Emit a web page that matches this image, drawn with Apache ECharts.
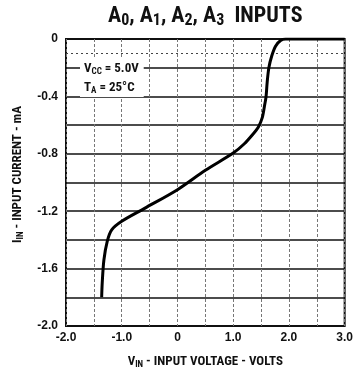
<!DOCTYPE html>
<html><head><meta charset="utf-8">
<script src="https://cdn.jsdelivr.net/npm/echarts@6/dist/echarts.min.js"></script>
<style>html,body{margin:0;padding:0;background:#fff}#c{width:356px;height:376px}</style>
</head><body><div id="c"></div>
<script>
// V_IN (volts) and I_IN (mA)
const vin = [-1.36, -1.35, -1.32, -1.26, -1.18, -1.0, -0.59, 0.0, 0.5, 1.0, 1.2, 1.35, 1.45, 1.52, 1.56, 1.59, 1.61, 1.64, 1.69, 1.76, 1.85, 1.94, 3.0];
const iin = [-1.80, -1.70, -1.54, -1.41, -1.33, -1.27, -1.18, -1.05, -0.915, -0.795, -0.73, -0.665, -0.615, -0.55, -0.47, -0.40, -0.30, -0.20, -0.12, -0.05, -0.01, 0.0, 0.0];
const xTickLabels = ['-2.0', '-1.0', '0', '1.0', '2.0', '3.0'];
const yTickLabels = ['0', '-0.4', '-0.8', '-1.2', '-1.6', '-2.0'];
const refLevel = -0.1;

const F = '"Liberation Sans", Arial, sans-serif';
const FC = '"Roboto Condensed", "Liberation Sans", sans-serif';
const chart = echarts.init(document.getElementById('c'), null, {renderer: 'canvas'});

function xLab(v) {
  const r = Math.round(v * 10) / 10;
  if (Math.abs(r - Math.round(r)) > 1e-6) return '';
  const s = r === 0 ? '0' : r.toFixed(1);
  return xTickLabels.includes(s) ? s : '';
}
function yLab(v) {
  const r = Math.round(v * 10) / 10;
  const s = r === 0 ? '0' : r.toFixed(1);
  return yTickLabels.includes(s) ? s : '';
}
const subRich = (fs, lh, pad) => ({
  n: {fontFamily: FC, fontWeight: 'bold', fontSize: fs, color: '#111', lineHeight: lh},
  s: {fontFamily: FC, fontWeight: 'bold', fontSize: Math.round(fs * 0.72), color: '#111', lineHeight: lh, padding: [pad, 0, 0, 0]}
});

chart.setOption({
  animation: false,
  backgroundColor: '#fff',
  title: [{
    text: '{n|A}{s|0}{n|, A}{s|1}{n|, A}{s|2}{n|, A}{s|3}{n|  INPUTS}',
    left: 108, top: 3, padding: 0,
    textStyle: {rich: subRich(22, 26, 10)}
  }, {
    text: '{n|V}{s|CC}{n| = 5.0V}\n{n|T}{s|A}{n| = 25°C}',
    left: 80, top: 57, padding: [2, 5, 2, 4],
    backgroundColor: '#fff',
    textStyle: {rich: subRich(13, 19, 6)}
  }],
  grid: {left: 66, right: 6, top: 39, bottom: 50, show: true, borderColor: '#111', borderWidth: 2, backgroundColor: 'transparent'},
  xAxis: {
    type: 'value', min: -2, max: 3, interval: 0.5,
    axisLine: {show: false}, axisTick: {show: false},
    axisLabel: {formatter: xLab, fontFamily: F, fontWeight: 'bold', fontSize: 12, color: '#111', margin: 6},
    splitLine: {show: true, lineStyle: {color: '#777', width: 1, type: [3, 2]}},
    name: '{n|V}{s|IN}{n| - INPUT VOLTAGE - VOLTS}',
    nameLocation: 'middle', nameGap: 28,
    nameTextStyle: {rich: subRich(13, 16, 6)}
  },
  yAxis: {
    type: 'value', min: -2, max: 0, interval: 0.2,
    axisLine: {show: false}, axisTick: {show: false},
    axisLabel: {formatter: yLab, fontFamily: F, fontWeight: 'bold', fontSize: 12, color: '#111', margin: 8},
    splitLine: {show: true, lineStyle: {color: '#111', width: 1.5}},
    name: '{n|I}{s|IN}{n| - INPUT CURRENT - mA}',
    nameLocation: 'middle', nameGap: 40,
    nameTextStyle: {rich: subRich(13, 16, 6), padding: [0, 0, 0, 16]}
  },
  series: [{
    type: 'line',
    data: vin.map((v, i) => [v, iin[i]]),
    showSymbol: false,
    smooth: 0.3,
    lineStyle: {color: '#000', width: 3},
    markLine: {
      silent: true, symbol: 'none', label: {show: false},
      lineStyle: {color: '#444', width: 1, type: [2, 3]},
      data: [{yAxis: refLevel}]
    },
    z: 5
  }]
});
</script></body></html>
